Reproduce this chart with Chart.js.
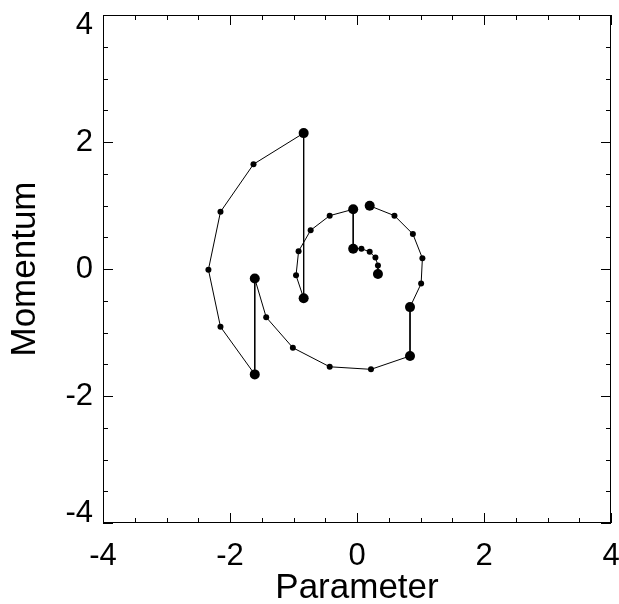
<!DOCTYPE html>
<html>
<head>
<meta charset="utf-8">
<script src="https://cdn.jsdelivr.net/npm/chart.js@4.4.1/dist/chart.umd.min.js"></script>
<style>
  html, body { margin: 0; padding: 0; background: #fff; }
  #wrap { width: 619px; height: 604px; }
</style>
</head>
<body>
<div id="wrap"><canvas id="grafico" width="619" height="604"></canvas></div>
<script>
// trajectory: 5 segments of 6 points, joined by vertical kicks
var paramX = [
    0.20, 0.59, 0.88, 1.03, 1.01, 0.835,
    0.835, 0.22, -0.43, -1.01, -1.43, -1.61,
    -1.61, -2.15, -2.34, -2.15, -1.63, -0.84,
    -0.84, -0.96, -0.92, -0.73, -0.43, -0.06,
    -0.06, 0.07, 0.20, 0.29, 0.33, 0.33
];
var momentumY = [
    0.995, 0.84, 0.55, 0.17, -0.23, -0.60,
    -1.37, -1.58, -1.54, -1.24, -0.76, -0.15,
    -1.66, -0.91, -0.01, 0.90, 1.65, 2.14,
    -0.46, -0.10, 0.28, 0.61, 0.84, 0.94,
    0.32, 0.32, 0.27, 0.18, 0.055, -0.08
];
var segLen = 6;
var tickValues = [-4, -2, 0, 2, 4];

var pontos = paramX.map(function (x, i) { return { x: x, y: momentumY[i] }; });

var fonte = "'Liberation Sans', Arial, sans-serif";

// ticks pointing inwards on all four sides + frame
var moldura = {
    id: 'moldura',
    afterDraw: function (chart) {
        var ctx = chart.ctx, a = chart.chartArea;
        var sx = chart.scales.x, sy = chart.scales.y;
        ctx.save();
        ctx.strokeStyle = '#000';
        ctx.lineWidth = 1;
        ctx.strokeRect(a.left + 0.5, a.top + 0.5, a.right - a.left - 1, a.bottom - a.top - 1);
        ctx.beginPath();
        for (var v = -4; v <= 4.001; v += 0.5) {
            var len = (Math.abs(v % 2) < 0.001) ? 10 : 5;
            var px = Math.round(sx.getPixelForValue(v)) + 0.5;
            ctx.moveTo(px, a.bottom); ctx.lineTo(px, a.bottom - len);
            ctx.moveTo(px, a.top); ctx.lineTo(px, a.top + len);
            var py = Math.round(sy.getPixelForValue(v)) + 0.5;
            ctx.moveTo(a.left, py); ctx.lineTo(a.left + len, py);
            ctx.moveTo(a.right, py); ctx.lineTo(a.right - len, py);
        }
        ctx.stroke();
        ctx.restore();
    }
};

new Chart(document.getElementById("grafico"), {
    type: 'scatter',
    data: {
        datasets: [
            {
                data: pontos,
                showLine: true,
                borderColor: '#000',
                borderWidth: 1,
                backgroundColor: '#000',
                pointBorderWidth: 0,
                pointRadius: function (c) {
                    var k = c.dataIndex % segLen;
                    return (k === 0 || k === segLen - 1) ? 5 : 3;
                },
                tension: 0
            }
        ]
    },
    options: {
        responsive: false,
        animation: false,
        layout: { padding: { left: 0, right: 8, top: 15, bottom: 0 } },
        plugins: { legend: { display: false }, tooltip: { enabled: false } },
        scales: {
            x: {
                type: 'linear', min: -4, max: 4,
                afterBuildTicks: function (s) { s.ticks = tickValues.map(function (v) { return { value: v }; }); },
                afterFit: function (s) { s.height = 81; s.paddingLeft = 0; s.paddingRight = 0; },
                grid: { display: false, drawTicks: false },
                border: { display: false },
                ticks: { color: '#000', font: { family: fonte, size: 31 }, padding: 15, maxRotation: 0 },
                title: { display: true, text: 'Parameter', color: '#000', font: { family: fonte, size: 35, lineHeight: 0.9 }, padding: { top: 0, bottom: 0 } }
            },
            y: {
                type: 'linear', min: -4, max: 4,
                afterBuildTicks: function (s) { s.ticks = tickValues.map(function (v) { return { value: v }; }); },
                afterFit: function (s) { s.width = 103; s.paddingTop = 0; s.paddingBottom = 0; },
                grid: { display: false, drawTicks: false },
                border: { display: false },
                ticks: {
                    color: '#000', font: { family: fonte, size: 31, lineHeight: '20px' }, padding: 10,
                    // end labels sit inside the frame
                    callback: function (v) {
                        if (v === 4) return ['', '4'];
                        if (v === -4) return ['-4', ''];
                        return String(v);
                    }
                },
                title: { display: true, text: 'Momentum', color: '#000', font: { family: fonte, size: 35 }, padding: { top: 4, bottom: 0 } }
            }
        }
    },
    plugins: [moldura]
});
</script>
</body>
</html>
